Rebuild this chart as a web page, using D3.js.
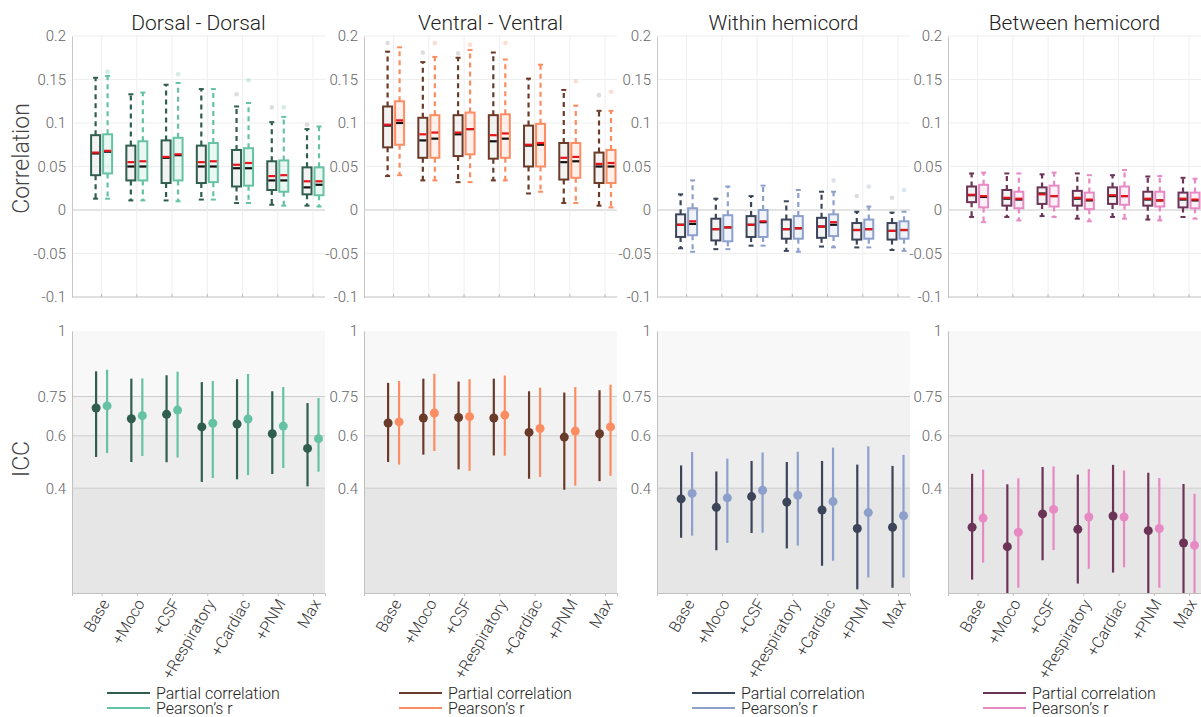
<!DOCTYPE html>
<html>
<head>
<meta charset="utf-8">
<script src="https://d3js.org/d3.v7.min.js"></script>
<style>
  body { margin: 0; background: #fff; }
  text { font-family: "Roboto Light", Roboto, "Noto Sans", sans-serif; font-weight: 300; }
</style>
</head>
<body>
<svg id="canvas" width="1201" height="717"></svg>
<script>
// ---------- data ----------
const categories = ["Base", "+Moco", "+CSF", "+Respiratory", "+Cardiac", "+PNM", "Max"];
const titles = ["Dorsal - Dorsal", "Ventral - Ventral", "Within hemicord", "Between hemicord"];
const seriesNames = ["Partial correlation", "Pearson\u2019s r"];
const darkColors = ["#2f5e4f", "#6b3b29", "#3b4459", "#6b3457"];
const lightColors = ["#66c2a5", "#fc8d62", "#8da0cb", "#e78ac3"];

const corrTicks = [0.2, 0.15, 0.1, 0.05, 0, -0.05, -0.1];
const corrTickLabels = ["0.2", "0.15", "0.1", "0.05", "0", "-0.05", "-0.1"];
const iccTicks = [1, 0.75, 0.6, 0.4];
const iccTickLabels = ["1", "0.75", "0.6", "0.4"];
const iccBands = [[0.75, 1, "#f8f8f8"], [0.6, 0.75, "#f2f2f2"], [0.4, 0.6, "#ededed"], [0, 0.4, "#e6e6e6"]];

// box stats: [whiskerLow, q1, median, q3, whiskerHigh, mean]
const ddPartial = [[0.013,0.040,0.065,0.086,0.152,0.066],[0.011,0.034,0.050,0.074,0.133,0.055],[0.011,0.031,0.060,0.080,0.144,0.061],[0.012,0.031,0.050,0.074,0.139,0.055],[0.008,0.027,0.048,0.069,0.119,0.052],[0.006,0.023,0.034,0.056,0.101,0.039],[0.005,0.018,0.026,0.049,0.093,0.033]];
const ddPearson = [[0.013,0.042,0.067,0.087,0.154,0.068],[0.011,0.034,0.050,0.079,0.135,0.056],[0.010,0.034,0.063,0.083,0.146,0.064],[0.012,0.032,0.050,0.077,0.139,0.056],[0.008,0.028,0.048,0.071,0.123,0.054],[0.005,0.021,0.034,0.057,0.107,0.040],[0.004,0.017,0.029,0.049,0.096,0.033]];
const vvPartial = [[0.039,0.072,0.097,0.119,0.182,0.098],[0.034,0.060,0.080,0.106,0.170,0.087],[0.032,0.062,0.087,0.109,0.175,0.089],[0.034,0.059,0.079,0.109,0.181,0.086],[0.019,0.050,0.074,0.097,0.151,0.075],[0.008,0.035,0.055,0.077,0.138,0.060],[0.005,0.031,0.050,0.066,0.114,0.053]];
const vvPearson = [[0.040,0.075,0.100,0.125,0.187,0.103],[0.034,0.060,0.082,0.109,0.176,0.089],[0.032,0.064,0.093,0.112,0.184,0.093],[0.034,0.060,0.082,0.110,0.173,0.088],[0.021,0.050,0.075,0.099,0.167,0.077],[0.008,0.037,0.056,0.077,0.120,0.061],[0.003,0.031,0.050,0.069,0.114,0.054]];
const whPartial = [[-0.044,-0.031,-0.017,-0.005,0.018,-0.017],[-0.045,-0.035,-0.022,-0.010,0.013,-0.022],[-0.041,-0.031,-0.017,-0.007,0.016,-0.017],[-0.047,-0.033,-0.022,-0.011,0.010,-0.022],[-0.042,-0.032,-0.019,-0.009,0.021,-0.019],[-0.043,-0.034,-0.023,-0.015,-0.002,-0.023],[-0.046,-0.034,-0.024,-0.015,-0.003,-0.024]];
const whPearson = [[-0.048,-0.029,-0.016,0.002,0.034,-0.013],[-0.045,-0.036,-0.020,-0.006,0.027,-0.020],[-0.041,-0.031,-0.014,0.000,0.028,-0.013],[-0.048,-0.033,-0.021,-0.007,0.023,-0.021],[-0.043,-0.030,-0.017,-0.005,0.021,-0.014],[-0.043,-0.033,-0.022,-0.011,0.004,-0.022],[-0.047,-0.033,-0.023,-0.013,-0.002,-0.023]];
const bhPartial = [[-0.008,0.009,0.017,0.027,0.042,0.0175],[-0.008,0.005,0.013,0.023,0.042,0.014],[-0.007,0.007,0.019,0.026,0.041,0.018],[-0.010,0.005,0.013,0.022,0.042,0.014],[-0.008,0.007,0.016,0.026,0.040,0.017],[-0.011,0.005,0.012,0.021,0.0385,0.013],[-0.008,0.003,0.012,0.020,0.037,0.013]];
const bhPearson = [[-0.014,0.003,0.015,0.029,0.043,0.016],[-0.012,0.002,0.012,0.021,0.042,0.013],[-0.008,0.004,0.016,0.028,0.043,0.016],[-0.013,0.001,0.011,0.020,0.040,0.012],[-0.010,0.006,0.016,0.027,0.046,0.016],[-0.012,0.004,0.011,0.021,0.039,0.011],[-0.010,0.002,0.011,0.020,0.036,0.012]];

// outliers: [categoryIndex, value]
const ddPartialOut = [[4,0.133],[5,0.118],[6,0.098]];
const ddPearsonOut = [[0,0.159],[2,0.156],[4,0.149],[5,0.118]];
const vvPartialOut = [[0,0.192],[1,0.181],[2,0.180],[6,0.132]];
const vvPearsonOut = [[1,0.192],[2,0.190],[3,0.192],[5,0.148],[6,0.136]];
const whPartialOut = [[5,0.016],[6,0.014]];
const whPearsonOut = [[4,0.034],[5,0.027],[6,0.023]];
const bhPartialOut = [];
const bhPearsonOut = [];

// ICC: [estimate, lower, upper]
const ddIccPartial = [[0.706,0.519,0.846],[0.665,0.50,0.818],[0.682,0.499,0.831],[0.634,0.424,0.805],[0.645,0.434,0.816],[0.608,0.454,0.770],[0.552,0.407,0.725]];
const ddIccPearson = [[0.714,0.534,0.852],[0.677,0.523,0.819],[0.698,0.517,0.845],[0.648,0.439,0.809],[0.664,0.450,0.836],[0.637,0.477,0.786],[0.589,0.463,0.744]];
const vvIccPartial = [[0.649,0.50,0.802],[0.668,0.528,0.818],[0.670,0.472,0.807],[0.668,0.525,0.818],[0.613,0.436,0.770],[0.595,0.394,0.765],[0.608,0.427,0.774]];
const vvIccPearson = [[0.653,0.490,0.809],[0.687,0.542,0.837],[0.673,0.466,0.816],[0.679,0.524,0.830],[0.628,0.443,0.784],[0.618,0.410,0.786],[0.634,0.447,0.795]];
const whIccPartial = [[0.359,0.211,0.487],[0.327,0.163,0.464],[0.368,0.229,0.504],[0.347,0.170,0.500],[0.317,0.104,0.504],[0.246,0.014,0.490],[0.251,0.020,0.485]];
const whIccPearson = [[0.380,0.219,0.538],[0.363,0.191,0.513],[0.392,0.230,0.536],[0.373,0.181,0.539],[0.349,0.123,0.555],[0.307,0.059,0.560],[0.295,0.059,0.527]];
const bhIccPartial = [[0.251,0.051,0.455],[0.177,0.0,0.415],[0.302,0.125,0.481],[0.243,0.036,0.452],[0.294,0.078,0.489],[0.238,0.0,0.459],[0.191,0.0,0.416]];
const bhIccPearson = [[0.286,0.116,0.471],[0.232,0.020,0.438],[0.319,0.164,0.483],[0.290,0.092,0.473],[0.290,0.098,0.468],[0.246,0.020,0.439],[0.182,0.0,0.379]];

const boxData = [[ddPartial, ddPearson], [vvPartial, vvPearson], [whPartial, whPearson], [bhPartial, bhPearson]];
const outData = [[ddPartialOut, ddPearsonOut], [vvPartialOut, vvPearsonOut], [whPartialOut, whPearsonOut], [bhPartialOut, bhPearsonOut]];
const iccData = [[ddIccPartial, ddIccPearson], [vvIccPartial, vvIccPearson], [whIccPartial, whIccPearson], [bhIccPartial, bhIccPearson]];

// ---------- layout ----------
const svg = d3.select("#canvas");
const panelLeft = [72, 364, 657, 948];
const panelW = 253;
const topY = [36, 297];
const botY = [331, 593];
const offset = 6;   // half distance between paired marks
const boxW = 9;
const FONT = '"Roboto Light", Roboto, "Noto Sans", sans-serif';

const yCorr = d3.scaleLinear().domain([-0.1, 0.2]).range([topY[1], topY[0]]);
const yIcc = d3.scaleLinear().domain([0, 1]).range([botY[1], botY[0]]);

// y labels
svg.append("text").attr("transform", `translate(29,${(topY[0] + topY[1]) / 2 - 8}) rotate(-90)`)
  .attr("text-anchor", "middle").attr("font-size", 23).attr("fill", "#444").text("Correlation");
svg.append("text").attr("transform", `translate(29,${yIcc(0.5) - 3}) rotate(-90)`)
  .attr("text-anchor", "middle").attr("font-size", 23).attr("fill", "#444").text("ICC");

titles.forEach((title, p) => {
  const x = d3.scaleLinear().domain([0.16, 7.34]).range([panelLeft[p], panelLeft[p] + panelW]);
  const cx = i => x(i + 1);
  const dark = darkColors[p], light = lightColors[p];
  const cols = [dark, light];

  // ---- title ----
  svg.append("text").attr("x", panelLeft[p] + panelW / 2).attr("y", 30)
    .attr("text-anchor", "middle").attr("font-size", 21).attr("fill", "#222").text(title);

  // ---- top: correlation boxplots ----
  const gt = svg.append("g");
  gt.selectAll(".hg").data(corrTicks).join("line")
    .attr("x1", panelLeft[p]).attr("x2", panelLeft[p] + panelW)
    .attr("y1", d => yCorr(d)).attr("y2", d => yCorr(d))
    .attr("stroke", d => d === 0 ? "#c8c8c8" : "#eeeeee").attr("stroke-width", 1);
  gt.selectAll(".vg").data(categories).join("line")
    .attr("x1", (d, i) => cx(i)).attr("x2", (d, i) => cx(i))
    .attr("y1", topY[0]).attr("y2", topY[1])
    .attr("stroke", "#eeeeee");
  const yAxisT = d3.axisLeft(yCorr).tickValues(corrTicks).tickFormat((d, i) => corrTickLabels[i]).tickSize(0).tickPadding(6);
  const ax = gt.append("g").attr("transform", `translate(${panelLeft[p]},0)`).call(yAxisT);
  ax.select(".domain").attr("stroke", "#c8c8c8");
  ax.selectAll("text").attr("font-size", 15).attr("fill", "#666").attr("font-family", FONT).attr("font-weight", 300);
  gt.append("line").attr("x1", panelLeft[p]).attr("x2", panelLeft[p] + panelW)
    .attr("y1", topY[1]).attr("y2", topY[1]).attr("stroke", "#c8c8c8");
  gt.selectAll(".xt").data(categories).join("line")
    .attr("x1", (d, i) => cx(i)).attr("x2", (d, i) => cx(i))
    .attr("y1", topY[1]).attr("y2", topY[1] - 3).attr("stroke", "#bbb");

  [0, 1].forEach(s => {
    const sx = i => cx(i) + (s === 0 ? -offset : offset);
    const col = cols[s];
    const g = gt.append("g");
    const stats = boxData[p][s];
    // box fill (approximates the faint points inside)
    g.selectAll(".bf").data(stats).join("rect")
      .attr("x", (d, i) => sx(i) - boxW / 2).attr("width", boxW)
      .attr("y", d => yCorr(d[3])).attr("height", d => yCorr(d[1]) - yCorr(d[3]))
      .attr("fill", s === 0 ? "#a0a4a2" : col).attr("fill-opacity", 0.13);
    // whiskers dashed
    g.selectAll(".wu").data(stats).join("line")
      .attr("x1", (d, i) => sx(i)).attr("x2", (d, i) => sx(i))
      .attr("y1", d => yCorr(d[3])).attr("y2", d => yCorr(d[4]))
      .attr("stroke", col).attr("stroke-width", 2.2).attr("stroke-dasharray", "5,4");
    g.selectAll(".wl").data(stats).join("line")
      .attr("x1", (d, i) => sx(i)).attr("x2", (d, i) => sx(i))
      .attr("y1", d => yCorr(d[1])).attr("y2", d => yCorr(d[0]))
      .attr("stroke", col).attr("stroke-width", 2.2).attr("stroke-dasharray", "5,4");
    // caps
    g.selectAll(".cu").data(stats).join("line")
      .attr("x1", (d, i) => sx(i) - 2.5).attr("x2", (d, i) => sx(i) + 2.5)
      .attr("y1", d => yCorr(d[4])).attr("y2", d => yCorr(d[4]))
      .attr("stroke", col).attr("stroke-width", 2);
    g.selectAll(".cl").data(stats).join("line")
      .attr("x1", (d, i) => sx(i) - 2.5).attr("x2", (d, i) => sx(i) + 2.5)
      .attr("y1", d => yCorr(d[0])).attr("y2", d => yCorr(d[0]))
      .attr("stroke", col).attr("stroke-width", 2);
    // outliers
    g.selectAll(".ol").data(outData[p][s]).join("circle")
      .attr("cx", d => sx(d[0])).attr("cy", d => yCorr(d[1])).attr("r", 2.3)
      .attr("fill", s === 0 ? "#8a918e" : col).attr("fill-opacity", 0.3);
    // box outline
    g.selectAll(".bo").data(stats).join("rect")
      .attr("x", (d, i) => sx(i) - boxW / 2).attr("width", boxW)
      .attr("y", d => yCorr(d[3])).attr("height", d => yCorr(d[1]) - yCorr(d[3]))
      .attr("fill", "none").attr("stroke", col).attr("stroke-width", 2);
    // median
    g.selectAll(".md").data(stats).join("line")
      .attr("x1", (d, i) => sx(i) - boxW / 2 + 1).attr("x2", (d, i) => sx(i) + boxW / 2 - 1)
      .attr("y1", d => yCorr(d[2])).attr("y2", d => yCorr(d[2]))
      .attr("stroke", "#111").attr("stroke-width", 2.2);
    // mean
    g.selectAll(".mn").data(stats).join("line")
      .attr("x1", (d, i) => sx(i) - boxW / 2 + 1).attr("x2", (d, i) => sx(i) + boxW / 2 - 1)
      .attr("y1", d => yCorr(d[5])).attr("y2", d => yCorr(d[5]))
      .attr("stroke", "#e8141b").attr("stroke-width", 2.2);
  });

  // ---- bottom: ICC ----
  const gb = svg.append("g");
  gb.selectAll(".band").data(iccBands).join("rect")
    .attr("x", panelLeft[p]).attr("width", panelW)
    .attr("y", d => yIcc(d[1])).attr("height", d => yIcc(d[0]) - yIcc(d[1]))
    .attr("fill", d => d[2]);
  gb.selectAll(".ig").data(iccTicks.slice(1)).join("line")
    .attr("x1", panelLeft[p]).attr("x2", panelLeft[p] + panelW)
    .attr("y1", d => yIcc(d)).attr("y2", d => yIcc(d))
    .attr("stroke", "#cccccc");
  const yAxisB = d3.axisLeft(yIcc).tickValues(iccTicks).tickFormat((d, i) => iccTickLabels[i]).tickSize(0).tickPadding(6);
  const bx = gb.append("g").attr("transform", `translate(${panelLeft[p]},0)`).call(yAxisB);
  bx.select(".domain").attr("stroke", "#c0c0c0");
  bx.selectAll("text").attr("font-size", 15).attr("fill", "#666").attr("font-family", FONT).attr("font-weight", 300);
  const xAxisB = d3.axisBottom(x).tickValues(d3.range(1, 8)).tickFormat((d) => categories[d - 1]).tickSize(3).tickPadding(4);
  const xb = gb.append("g").attr("transform", `translate(0,${botY[1]})`).call(xAxisB);
  xb.select(".domain").attr("stroke", "#c0c0c0");
  xb.selectAll(".tick line").attr("stroke", "#c0c0c0");
  xb.selectAll("text").attr("font-size", 16).attr("fill", "#333").attr("font-family", FONT).attr("font-weight", 300)
    .attr("text-anchor", "end").attr("dy", "0.35em")
    .attr("transform", "translate(-3,4) rotate(-60)");

  [0, 1].forEach(s => {
    const sx = i => cx(i) + (s === 0 ? -offset + 0.5 : offset - 0.5);
    const col = cols[s];
    const vals = iccData[p][s];
    gb.selectAll(".eb" + s).data(vals).join("line")
      .attr("x1", (d, i) => sx(i)).attr("x2", (d, i) => sx(i))
      .attr("y1", d => yIcc(d[1])).attr("y2", d => yIcc(d[2]))
      .attr("stroke", col).attr("stroke-width", 2.2);
    gb.selectAll(".pt" + s).data(vals).join("circle")
      .attr("cx", (d, i) => sx(i)).attr("cy", d => yIcc(d[0])).attr("r", 4.5)
      .attr("fill", col);
  });

  // ---- legend ----
  const lg = svg.append("g").attr("transform", `translate(${panelLeft[p] + 35},0)`);
  [0, 1].forEach(s => {
    const ly = 693 + s * 15;
    lg.append("line").attr("x1", 0).attr("x2", 43).attr("y1", ly).attr("y2", ly)
      .attr("stroke", cols[s]).attr("stroke-width", 2);
    lg.append("text").attr("x", 49).attr("y", ly + 5.5).attr("font-size", 16).attr("fill", "#222").text(seriesNames[s]);
  });
});
</script>
</body>
</html>
